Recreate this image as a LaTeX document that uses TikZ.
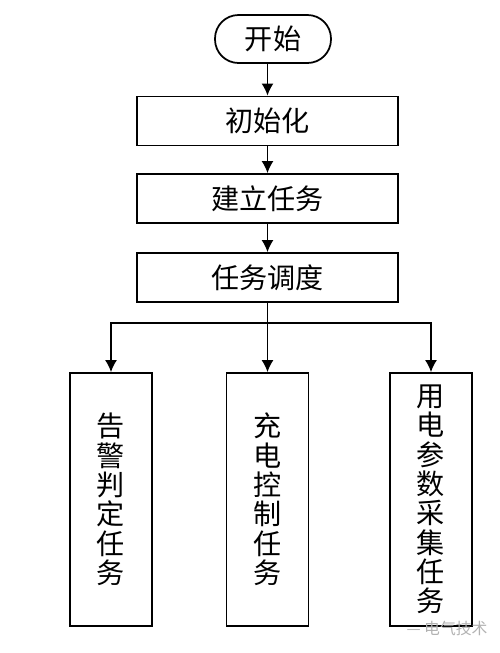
\documentclass[tikz,border=0pt]{standalone}
\usepackage{fontspec}
\newfontfamily\cjk{Noto Sans CJK SC}
\usepackage{tikz}
\usetikzlibrary{arrows.meta}

\begin{document}
\begin{tikzpicture}[x=0.02cm,y=-0.02cm]
\tikzset{>={Latex[width=2.4mm,length=2.4mm]}}
\tikzstyle{block} =[draw, line width=1pt, minimum width=5.22cm, minimum height=0.98cm, inner sep=0pt, font=\cjk\fontsize{16}{16}\selectfont]
\tikzstyle{task} =[draw, line width=1pt, minimum width=1.64cm, minimum height=5.06cm, inner sep=0pt, align=center, font=\cjk\fontsize{16}{16.7}\selectfont]

\useasboundingbox (0,0) rectangle (500,653);

\node[draw, line width=1pt, rounded corners=0.47cm, minimum width=2.32cm, minimum height=0.96cm, font=\cjk\fontsize{16}{16}\selectfont](start) at (273,39){开始};
\node[block](init) at (267.5,121){初始化};
\node[block](build) at (267.5,198.5){建立任务};
\node[block](sched) at (267.5,277.5){任务调度};
\node[task](alarm) at (111,499.5){告\\警\\判\\定\\任\\务};
\node[task](charge) at (267.5,499.5){充\\电\\控\\制\\任\\务};
\node[task](meter) at (431,499.5){用\\电\\参\\数\\采\\集\\任\\务};
\coordinate (fork) at (267.5,323);

\node[text=gray!60, font=\cjk\fontsize{9}{9}\selectfont](mark) at (447,628){— 电气技术};

\draw [->,line width=1pt] (init.north |- start.south) -- (init.north);
\draw [->,line width=1pt] (init) -- (build);
\draw [->,line width=1pt] (build) -- (sched);
\draw [line width=1pt] (sched.south) -- (fork);
\draw [->,line width=1pt] (fork) -| (alarm.north);
\draw [->,line width=1pt] (fork) -- (charge.north);
\draw [->,line width=1pt] (fork) -| (meter.north);
\end{tikzpicture}
\end{document}
